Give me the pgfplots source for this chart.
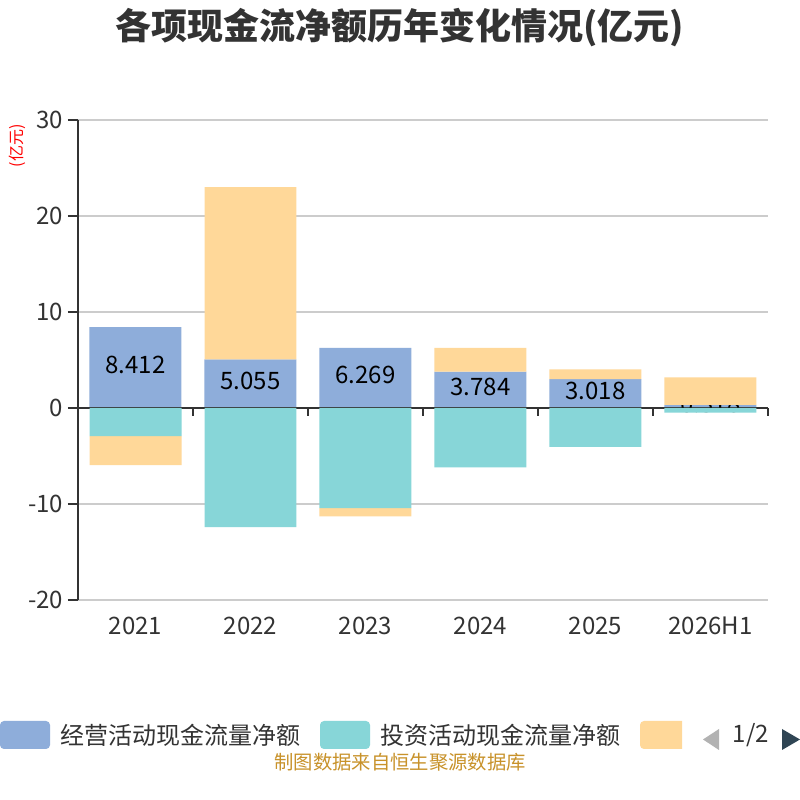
\documentclass[border=0pt]{standalone}
\usepackage{fontspec}
\setmainfont{Noto Sans CJK SC}
\usepackage{pgfplots}
\pgfplotsset{compat=1.18}
\definecolor{cBlue}{HTML}{8EADDA}
\definecolor{cTeal}{HTML}{87D6D8}
\definecolor{cOrange}{HTML}{FFD899}
\definecolor{cText}{HTML}{333333}
\definecolor{cGrid}{HTML}{CCCCCC}
\definecolor{cFoot}{HTML}{C8922A}
\definecolor{cPager}{HTML}{2F4554}
\pgfplotsset{common/.style={at={(58.5pt,150pt)}, anchor=south west, width=517.5pt, height=360pt,
  scale only axis, xmin=-0.5, xmax=5.5, ymin=-20, ymax=30, clip=false,
  ybar stacked, bar width=0.8,
  /pgf/number format/assume math mode=true}}
\begin{document}
\begin{tikzpicture}
\path[fill=white] (0,0) rectangle (600pt,600pt);
\begin{axis}[common,
  axis lines*=left,
  x axis line style={draw=none},
  y axis line style={cText, line width=1.5pt},
  xtick style={draw=none},
  ytick style={cText, line width=1.5pt},
  major tick length=7.5pt, tick align=outside,
  ytick={-20,-10,0,10,20,30},
  xtick={0,1,2,3,4,5},
  xticklabels={2021,2022,2023,2024,2025,2026H1},
  ymajorgrids, grid style={cGrid, line width=1pt},
  yticklabel style={font=\fontsize{18}{18}\selectfont, text=cText},
  xticklabel style={font=\fontsize{18}{18}\selectfont, text=cText, yshift=-2pt},
  ]
  \draw[cText, line width=1.5pt] (axis cs:-0.5,0) -- (axis cs:5.5,0);
  \pgfplotsinvokeforeach{0.5,1.5,2.5,3.5,4.5,5.5}{
    \draw[cText, line width=1.5pt] (axis cs:#1,0) -- ([yshift=-6pt]axis cs:#1,0);
  }
  % operating cash flow
  \addplot[fill=cBlue, draw=none,
    point meta=rawy,
    nodes near coords={\pgfmathprintnumber[fixed, precision=3, fixed zerofill]{\pgfplotspointmeta}},
    every node near coord/.append style={font=\fontsize{18}{18}\selectfont, text=black, anchor=center, yshift=2pt}]
    coordinates {(0,8.412) (1,5.055) (2,6.269) (3,3.784) (4,3.018) (5,0.318)};
\end{axis}
\begin{axis}[common, hide axis]
  % investing cash flow
  \addplot[fill=cTeal, draw=none]
    coordinates {(0,-2.92) (1,-12.40) (2,-10.42) (3,-6.18) (4,-4.06) (5,-0.48)};
  % financing cash flow (negative part)
  \addplot[fill=cOrange, draw=none]
    coordinates {(0,-3.02) (1,0) (2,-0.88) (3,0) (4,0) (5,0)};
\end{axis}
\begin{axis}[common, hide axis]
  % operating cash flow as invisible base
  \addplot[fill=none, draw=none]
    coordinates {(0,8.412) (1,5.055) (2,6.269) (3,3.784) (4,3.018) (5,0.318)};
  % financing cash flow (positive part)
  \addplot[fill=cOrange, draw=none]
    coordinates {(0,0) (1,17.96) (2,0) (3,2.47) (4,1.01) (5,2.88)};
\end{axis}
% title
\node[font=\fontsize{27}{27}\selectfont\bfseries, text=cText] at (300pt,579pt) {各项现金流净额历年变化情况(亿元)};
% y label
\node[font=\fontsize{12}{12}\selectfont, text=red, rotate=90] at (12.75pt,490.5pt) {(亿元)};
% legend
\fill[cBlue, rounded corners=3pt] (0pt,38.25pt) rectangle (37.5pt,59.25pt);
\node[anchor=west, inner sep=0pt, font=\fontsize{18}{18}\selectfont, text=cText] at (45pt,48.75pt) {经营活动现金流量净额};
\fill[cTeal, rounded corners=3pt] (240pt,38.25pt) rectangle (277.5pt,59.25pt);
\node[anchor=west, inner sep=0pt, font=\fontsize{18}{18}\selectfont, text=cText] at (285pt,48.75pt) {投资活动现金流量净额};
\begin{scope}
  \clip (470pt,30pt) rectangle (511.5pt,70pt);
  \fill[cOrange, rounded corners=3pt] (480pt,38.25pt) rectangle (517.5pt,59.25pt);
\end{scope}
\fill[gray!60] (527.25pt,45.4pt) -- (539.25pt,53.25pt) -- (539.25pt,37.5pt) -- cycle;
\node[font=\fontsize{18}{18}\selectfont, text=cText] at (563.25pt,48.75pt) {1/2};
\fill[cPager] (586.5pt,53.25pt) -- (586.5pt,37.5pt) -- (600pt,45.4pt) -- cycle;
% footer
\node[font=\fontsize{14.5}{14.5}\selectfont, text=cFoot] at (300pt,28.5pt) {制图数据来自恒生聚源数据库};
\end{tikzpicture}
\end{document}
